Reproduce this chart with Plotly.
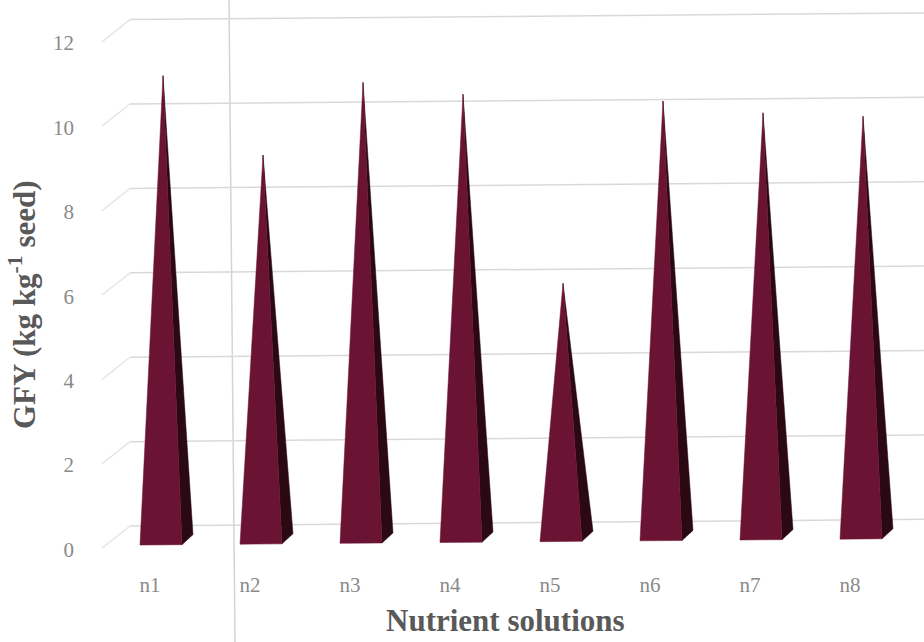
import plotly.graph_objects as go

# ---- data -------------------------------------------------------------
categories = ["n1", "n2", "n3", "n4", "n5", "n6", "n7", "n8"]
gfy = [11.0, 9.1, 10.8, 10.5, 6.0, 10.3, 10.0, 9.9]
y_ticks = [0, 2, 4, 6, 8, 10, 12]

# ---- pseudo-3D geometry (x in category units, y in value units) --------
FIG_W, FIG_H = 924, 642
M_L, M_B = 80, 72
X_MIN, X_MAX = -0.70, 7.74
Y_MIN, Y_MAX = -0.486, 13.021

TILT = 0.020          # slight perspective rise of the floor to the right
FRONT_L, FRONT_R = -0.10, 0.32   # front edge of a pyramid base
BACK_R = 0.43                    # back-right corner of the base
APEX_X = 0.13
BASE_FRONT, BASE_BACK, BASE_MID = 0.107, 0.344, 0.225
WALL_X, WALL_LIFT = -0.20, 0.56  # back wall (gridlines)
SIDE_X, SIDE_LIFT = -0.48, 0.04  # front edge of the side wall

FACE_FRONT = "#6a1333"
FACE_SIDE = "#2a0913"
GRID = "#d9d9d9"
SERIF = "Liberation Serif, Times New Roman, serif"


def lift(x):
    return TILT * x


def paper_x(px):
    return (px - M_L) / (FIG_W - M_L)


def paper_y(py):
    return (FIG_H - M_B - py) / (FIG_H - M_B)


fig = go.Figure()

# back wall gridlines plus the side-wall diagonals
gx, gy, sx, sy = [], [], [], []
for t in y_ticks:
    gx += [WALL_X, X_MAX, None]
    gy += [t + WALL_LIFT + lift(WALL_X), t + WALL_LIFT + lift(X_MAX), None]
    sx += [SIDE_X, WALL_X, None]
    sy += [t + SIDE_LIFT + lift(SIDE_X), t + WALL_LIFT + lift(WALL_X), None]
fig.add_trace(go.Scatter(x=gx, y=gy, mode="lines",
                         line=dict(color=GRID, width=1.5), hoverinfo="skip"))
fig.add_trace(go.Scatter(x=sx, y=sy, mode="lines",
                         line=dict(color="#e6e6e6", width=1.5), hoverinfo="skip"))

# pyramids
for i, v in enumerate(gfy):
    fl, fr, br, ax = i + FRONT_L, i + FRONT_R, i + BACK_R, i + APEX_X
    apex_y = v + BASE_MID + lift(ax)
    # right (shadowed) face
    fig.add_trace(go.Scatter(
        x=[fr, br, ax, fr],
        y=[BASE_FRONT + lift(fr), BASE_BACK + lift(br), apex_y, BASE_FRONT + lift(fr)],
        fill="toself", fillcolor=FACE_SIDE, mode="lines",
        line=dict(color=FACE_SIDE, width=0.5), hoverinfo="skip"))
    # front face
    fig.add_trace(go.Scatter(
        x=[fl, fr, ax, fl],
        y=[BASE_FRONT + lift(fl), BASE_FRONT + lift(fr), apex_y, BASE_FRONT + lift(fl)],
        fill="toself", fillcolor=FACE_FRONT, mode="lines",
        line=dict(color=FACE_FRONT, width=0.5),
        name=categories[i], hovertemplate=f"{categories[i]}: {v}<extra></extra>"))

fig.update_layout(
    width=FIG_W, height=FIG_H,
    margin=dict(l=M_L, r=0, t=0, b=M_B),
    paper_bgcolor="white", plot_bgcolor="white",
    showlegend=False,
    xaxis=dict(range=[X_MIN, X_MAX], tickvals=list(range(len(categories))),
               ticktext=categories, showgrid=False, zeroline=False,
               showline=False, ticks="",
               tickfont=dict(family=SERIF, size=21, color="#8a8a8a")),
    yaxis=dict(range=[Y_MIN, Y_MAX], tickvals=y_ticks, showgrid=False,
               zeroline=False, showline=False, ticks="", ticklabelstandoff=5,
               tickfont=dict(family=SERIF, size=21, color="#8a8a8a")),
    shapes=[dict(type="line", xref="paper", yref="paper",
                 x0=paper_x(229), x1=paper_x(235), y0=paper_y(0), y1=paper_y(642),
                 line=dict(color="#d4d4d4", width=1.5), layer="below")],
    annotations=[
        dict(text="<b>GFY (kg kg<sup>-1</sup> seed)</b>", textangle=-90,
             xref="paper", yref="paper", x=paper_x(22), y=paper_y(305),
             xanchor="center", yanchor="middle",
             showarrow=False, font=dict(family=SERIF, size=31, color="#595959")),
        dict(text="<b>Nutrient solutions</b>",
             xref="paper", yref="paper", x=paper_x(505), y=paper_y(620),
             xanchor="center", yanchor="middle",
             showarrow=False, font=dict(family=SERIF, size=31, color="#595959")),
    ],
)

fig.write_html("out.html")
